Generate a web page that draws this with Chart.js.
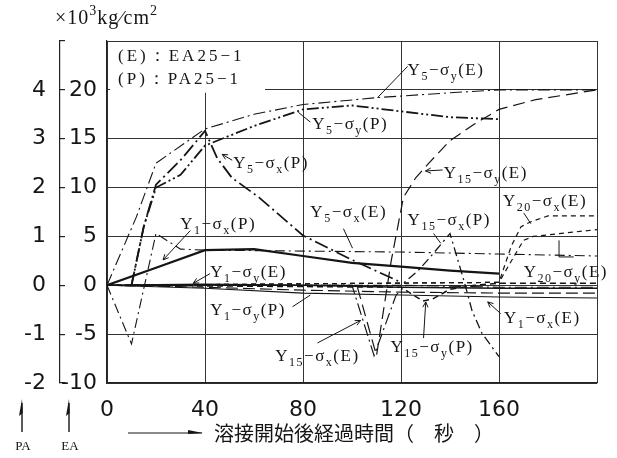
<!DOCTYPE html>
<html><head><meta charset="utf-8">
<script src="https://cdn.jsdelivr.net/npm/chart.js@4.4.1/dist/chart.umd.min.js"></script>
<style>html,body{margin:0;padding:0;background:#fff}#wrap{width:617px;height:458px;position:relative}</style>
</head><body><div id="wrap"><canvas id="c" width="617" height="458"></canvas></div>
<script>
// ---- data (time in s, stress in inner-axis units) ----
const xTicks = [0, 40, 80, 120, 160];
const yInnerTicks = [-10, -5, 0, 5, 10, 15, 20];
const yOuterTicks = [-2, -1, 0, 1, 2, 3, 4];

const y5SyE_t = [0, 12, 20, 40, 60, 80, 110, 140, 160, 200];
const y5SyE_v = [0, 7, 12.5, 16, 17.5, 18.5, 19.2, 19.7, 20, 20];

const y5SyP_t = [10, 15, 20, 30, 40, 50, 60, 80, 100, 120, 140, 160];
const y5SyP_v = [0, 6, 10, 11.3, 14.3, 15.3, 16.3, 18, 18.4, 17.8, 17.2, 17];

const y5SxP_t = [10, 15, 20, 30, 40, 45, 51, 62, 80, 100, 120];
const y5SxP_v = [0, 6, 10.3, 12.8, 15.8, 13, 11, 9, 5.1, 2.6, 0.3];

const y5SxE_t = [0, 10, 20, 30, 40, 80, 120, 160, 200];
const y5SxE_v = [0, -6, 5.3, 3.7, 3.6, 3.5, 3.4, 3.2, 3.0];

const y1SxP_t = [0, 20, 40, 60, 80, 100, 120, 140, 160];
const y1SxP_v = [0, 1.8, 3.6, 3.7, 3.0, 2.3, 1.9, 1.5, 1.2];

const y1SyE_t = [0, 40, 80, 120, 160, 200];
const y1SyE_v = [0, 0.1, 0, -0.2, -0.3, -0.3];

const y1SyP_t = [0, 40, 80, 120, 160, 200];
const y1SyP_v = [0, -0.3, -0.8, -1.0, -1.2, -1.3];

const y1SxE_t = [0, 40, 80, 120, 160, 200];
const y1SxE_v = [0, -0.2, -0.5, -0.7, -0.8, -0.8];

const y15SxE_t = [0, 100, 109, 118, 122, 160, 200];
const y15SxE_v = [0, 0, -7.2, -1, 0, -0.2, -0.2];

const y15SyE_t = [0, 102, 110, 116, 121, 126, 131, 140, 150, 160, 175, 200];
const y15SyE_v = [0, 0, -7.2, 2.5, 9, 11, 12.4, 14.8, 16.5, 18, 19, 20];

const y15SxP_t = [0, 120, 127, 133, 140, 146, 149, 153, 160];
const y15SxP_v = [0, 0, 1.5, 3.2, 5.3, 0.2, -2.6, -4.9, -7.3];

const y15SyP_t = [0, 120, 125, 129, 133, 140, 150, 160, 200];
const y15SyP_v = [0, -0.2, -1.0, -1.6, -1.4, -0.4, 0, 0.2, 0.2];

const y20SxE_t = [0, 160, 165, 169, 173, 180, 200];
const y20SxE_v = [0, 0.3, 4.0, 6.0, 6.5, 7.1, 7.1];

const y20SyE_t = [0, 160, 166, 170, 174, 200];
const y20SyE_v = [0, 0.3, 2.9, 4.6, 5.0, 5.7];

// ---- helpers ----
const INK = '#151515';
function pts(t, v) { return t.map((x, i) => ({ x: x, y: v[i] })); }
function ds(t, v, width, dash) {
  return { data: pts(t, v), borderColor: INK, borderWidth: width, borderDash: dash,
           pointRadius: 0, fill: false, tension: 0, xAxisID: 'x', yAxisID: 'y' };
}

const SERIF = '"Liberation Serif", "DejaVu Serif", serif';
const SANS = '"DejaVu Sans", sans-serif';

function drawRich(ctx, s, x, ymid, size, fam, ls) {
  const re = /_\{([^}]*)\}|\^\{([^}]*)\}|([^_^]+)/g;
  let m, cx = x;
  ctx.textBaseline = 'alphabetic';
  ctx.textAlign = 'left';
  ctx.letterSpacing = (ls || 0) + 'px';
  const base = ymid + size * 0.35;
  while ((m = re.exec(s))) {
    let txt, fs = size, dy = 0;
    if (m[1] !== undefined) { txt = m[1]; fs = Math.round(size * 0.72); dy = size * 0.3; }
    else if (m[2] !== undefined) { txt = m[2]; fs = Math.round(size * 0.72); dy = -size * 0.45; }
    else txt = m[3];
    ctx.font = fs + 'px ' + fam;
    ctx.fillText(txt, cx, base + dy);
    cx += ctx.measureText(txt).width;
  }
  ctx.letterSpacing = '0px';
  return cx;
}
function line(ctx, x1, y1, x2, y2, head) {
  ctx.beginPath(); ctx.moveTo(x1, y1); ctx.lineTo(x2, y2); ctx.stroke();
  if (head) {
    const a = Math.atan2(y2 - y1, x2 - x1), L = 6;
    ctx.beginPath();
    ctx.moveTo(x2 - L * Math.cos(a - 0.45), y2 - L * Math.sin(a - 0.45));
    ctx.lineTo(x2, y2);
    ctx.lineTo(x2 - L * Math.cos(a + 0.45), y2 - L * Math.sin(a + 0.45));
    ctx.stroke();
  }
}

// annotation labels in data coordinates (left edge t, vertical middle v)
const seriesLabels = [
  ['Y_{5}−σ_{y}(E)', 122.7, 22.1], ['Y_{5}−σ_{y}(P)', 83.8, 16.6], ['Y_{5}−σ_{x}(P)', 51.5, 12.6],
  ['Y_{15}−σ_{y}(E)', 137.4, 11.6], ['Y_{20}−σ_{x}(E)', 161.6, 8.7], ['Y_{5}−σ_{x}(E)', 83, 7.6],
  ['Y_{15}−σ_{x}(P)', 122.7, 6.8], ['Y_{1}−σ_{x}(P)', 29.9, 6.4], ['Y_{1}−σ_{y}(E)', 42.1, 1.5],
  ['Y_{20}−σ_{y}(E)', 170.1, 1.5], ['Y_{1}−σ_{y}(P)', 42.1, -2.4], ['Y_{1}−σ_{x}(E)', 162, -3.2],
  ['Y_{15}−σ_{y}(P)', 115.7, -6.2], ['Y_{15}−σ_{x}(E)', 68.7, -7.1]
];
const pointers = [
  [122.7, 22.4, 110.4, 19.2, 0], [83, 16.7, 78.1, 17.7, 0], [51.1, 12.8, 47, 13.4, 1],
  [137, 11.8, 130, 11.7, 1], [170.1, 7.4, 173, 6.3, 0], [96.5, 5.8, 100.2, 3.8, 0],
  [133.3, 5.3, 136.2, 4.3, 0], [34, 5.6, 22.9, 2.6, 1], [42.1, 1.2, 35.2, 0.2, 1],
  [184.5, 4.6, 184.5, 2.9, 0], [184.5, 2.9, 190.5, 2.9, 0], [75.7, -2.2, 83, -1, 0],
  [160.7, -2.9, 155.4, -1.7, 1], [129.2, -5.4, 130.1, -1.7, 1], [85.9, -5.9, 103.5, -3.6, 1]
];
const legendBox = { t0: 1.3, t1: 64.5, v0: 19.7, v1: 25 };
const legendLines = [['(E)：EA25−1', 4.5, 23.4], ['(P)：PA25−1', 4.5, 21.1]];

const annot = {
  id: 'annot',
  beforeDatasetsDraw(chart) {
    const ctx = chart.ctx, x = chart.scales.x, y = chart.scales.y;
    ctx.save();
    ctx.fillStyle = '#fff';
    const l = x.getPixelForValue(legendBox.t0), r = x.getPixelForValue(legendBox.t1);
    const t = y.getPixelForValue(legendBox.v1) + 1, b = y.getPixelForValue(legendBox.v0);
    ctx.fillRect(l, t, r - l, b - t);
    ctx.restore();
  },
  afterDatasetsDraw(chart) {
    const ctx = chart.ctx, x = chart.scales.x, y = chart.scales.y, y2 = chart.scales.y2;
    ctx.save();
    ctx.fillStyle = INK; ctx.strokeStyle = INK; ctx.lineWidth = 1;
    legendLines.forEach(([s, tv, vv]) => {
      ctx.font = '17px ' + SERIF; ctx.letterSpacing = '3px';
      ctx.textBaseline = 'middle'; ctx.textAlign = 'left';
      ctx.fillText(s, x.getPixelForValue(tv), y.getPixelForValue(vv));
      ctx.letterSpacing = '0px';
    });
    seriesLabels.forEach(([s, tv, vv]) => drawRich(ctx, s, x.getPixelForValue(tv), y.getPixelForValue(vv), 17, SERIF, 1.5));
    pointers.forEach(([t1, v1, t2, v2, h]) => line(ctx, x.getPixelForValue(t1), y.getPixelForValue(v1), x.getPixelForValue(t2), y.getPixelForValue(v2), h));
    // unit label above axes
    drawRich(ctx, '×10^{3}kg∕cm^{2}', y2.right - 5, chart.chartArea.top - 24, 20, SERIF, 1);
    // x-axis title with arrow
    const ty = x.bottom - 25;
    ctx.lineWidth = 1.2;
    line(ctx, 128, ty, 202, ty, 0);
    ctx.beginPath(); ctx.moveTo(188, ty - 3); ctx.lineTo(203, ty); ctx.lineTo(188, ty + 1); ctx.closePath(); ctx.fill();
    ctx.font = '20px "Noto Sans CJK JP"'; ctx.textBaseline = 'middle'; ctx.textAlign = 'left';
    ctx.fillText('溶接開始後経過時間（　秒　）', 214, ty);
    // PA / EA arrows
    [[22, 'PA'], [69, 'EA']].forEach(([ax, s]) => {
      ctx.lineWidth = 1.4;
      line(ctx, ax, 432, ax, 403, 0);
      ctx.beginPath(); ctx.moveTo(ax, 399); ctx.lineTo(ax - 3, 416); ctx.lineTo(ax + 0.7, 413); ctx.closePath(); ctx.fill();
      ctx.font = '13px ' + SERIF; ctx.textAlign = 'center'; ctx.textBaseline = 'middle';
      ctx.fillText(s, ax + 1, 447);
    });
    ctx.restore();
  }
};

const tickFont = { family: SANS, size: 22 };
new Chart(document.getElementById('c'), {
  type: 'line',
  data: {
    datasets: [
      ds(y5SyE_t, y5SyE_v, 1.1, [12, 4, 2, 4]),
      ds(y5SyP_t, y5SyP_v, 1.8, [12, 3, 2, 3, 2, 3]),
      ds(y5SxP_t, y5SxP_v, 1.8, [14, 4, 2, 4]),
      ds(y5SxE_t, y5SxE_v, 1.1, [10, 4, 2, 4]),
      ds(y1SxP_t, y1SxP_v, 2.2, []),
      ds(y1SyE_t, y1SyE_v, 1.4, []),
      ds(y1SyP_t, y1SyP_v, 1.1, []),
      ds(y1SxE_t, y1SxE_v, 1.1, [12, 5]),
      ds(y15SxE_t, y15SxE_v, 1.2, [12, 4, 2, 4]),
      ds(y15SyE_t, y15SyE_v, 1.2, [12, 6]),
      ds(y15SxP_t, y15SxP_v, 1.3, [9, 4, 2, 4]),
      ds(y15SyP_t, y15SyP_v, 1.5, [6, 4]),
      ds(y20SxE_t, y20SxE_v, 1.2, [5, 4]),
      ds(y20SyE_t, y20SyE_v, 1.2, [5, 4])
    ]
  },
  options: {
    responsive: false, animation: false, devicePixelRatio: 1,
    layout: { padding: { left: 0, right: 20, top: 41, bottom: 0 } },
    plugins: { legend: { display: false }, tooltip: { enabled: false } },
    scales: {
      x: {
        type: 'linear', min: 0, max: 200,
        afterBuildTicks: s => { s.ticks = xTicks.concat([200]).map(v => ({ value: v })); },
        ticks: { autoSkip: false, maxRotation: 0, padding: 14, color: INK, font: tickFont,
                 callback: v => xTicks.includes(v) ? String(v) : '' },
        grid: { color: '#333', lineWidth: 1, drawTicks: false },
        border: { color: '#222', width: 1.2 },
        afterFit: s => { s.height = 75; }
      },
      y: {
        type: 'linear', position: 'left', weight: 0, min: -10, max: 25,
        afterBuildTicks: s => { s.ticks = yInnerTicks.concat([25]).map(v => ({ value: v })); },
        ticks: { padding: 10, color: INK, font: tickFont,
                 callback: v => yInnerTicks.includes(v) ? String(v) : '' },
        grid: { color: '#333', lineWidth: 1, drawTicks: false },
        border: { color: '#222', width: 1.2 },
        afterFit: s => { s.width = 47; }
      },
      y2: {
        type: 'linear', position: 'left', weight: 1, min: -2, max: 5,
        afterBuildTicks: s => { s.ticks = yOuterTicks.concat([5]).map(v => ({ value: v })); },
        ticks: { padding: 19, color: INK, font: tickFont,
                 callback: v => yOuterTicks.includes(v) ? String(v) : '' },
        grid: { drawOnChartArea: false, tickLength: -5, color: '#222', lineWidth: 1.2 },
        border: { color: '#222', width: 1.2 },
        afterFit: s => { s.width = 60; }
      }
    }
  },
  plugins: [annot]
});
</script></body></html>
